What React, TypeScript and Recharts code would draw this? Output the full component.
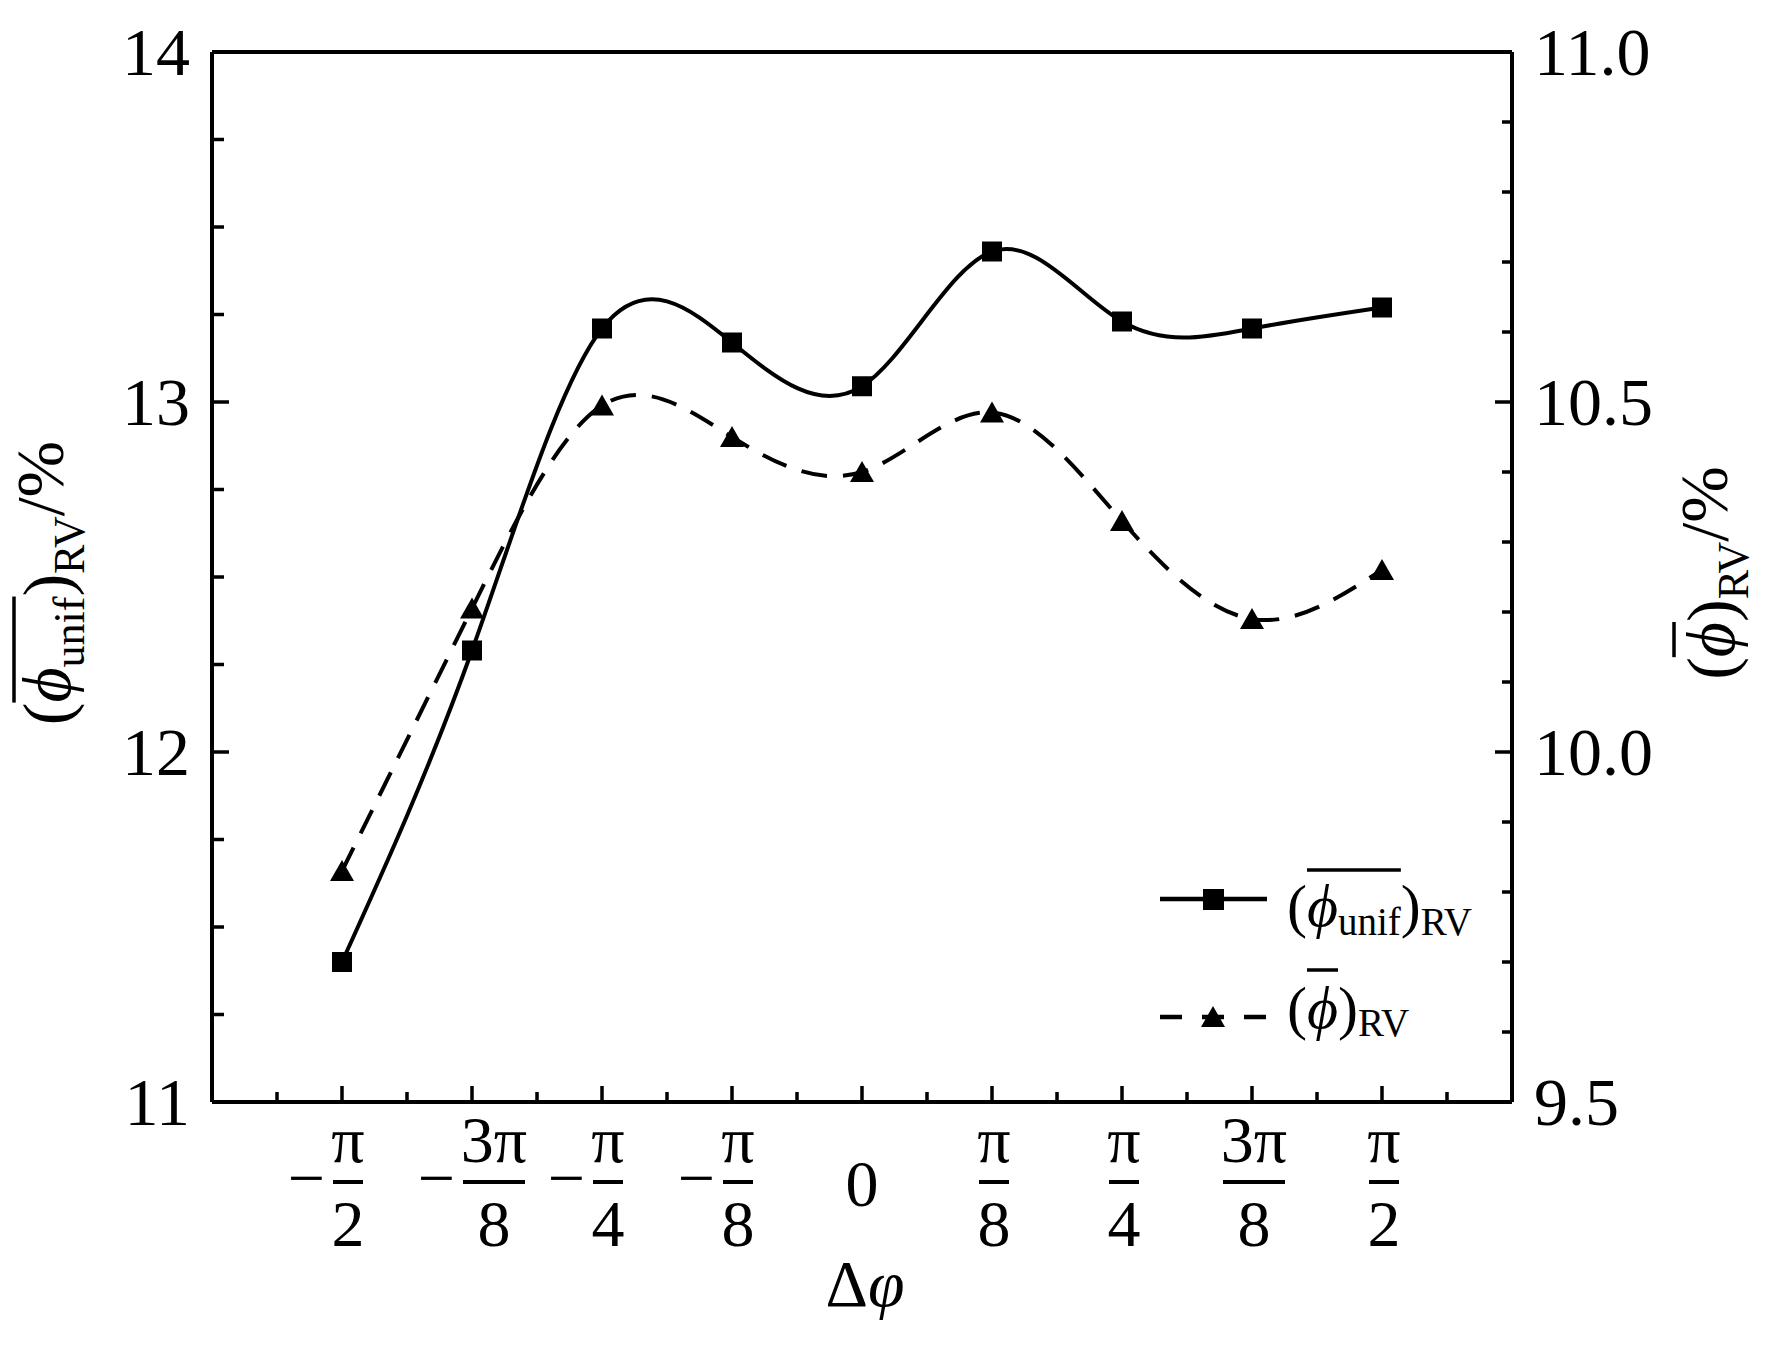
import React from 'react';
import { LineChart, Line, XAxis, YAxis, ReferenceLine, Legend, Label } from 'recharts';

// x positions in units of π/8
const xSteps = [-4, -3, -2, -1, 0, 1, 2, 3, 4];
const xTickLabels = ['−π/2', '−3π/8', '−π/4', '−π/8', '0', 'π/8', 'π/4', '3π/8', 'π/2'];
const xMinorTicks = [-4.5, -3.5, -2.5, -1.5, -0.5, 0.5, 1.5, 2.5, 3.5, 4.5];

// (φ_unif)RV on the left axis, (φ)RV on the right axis
const unifValues = [11.4, 12.29, 13.21, 13.17, 13.045, 13.43, 13.23, 13.21, 13.27];
const meanValues = [9.83, 10.205, 10.495, 10.45, 10.4, 10.485, 10.33, 10.19, 10.26];

const leftTicks = [11, 11.25, 11.5, 11.75, 12, 12.25, 12.5, 12.75, 13, 13.25, 13.5, 13.75, 14];
const leftMajor = [11, 12, 13, 14];
const leftTickLabels = ['11', '12', '13', '14'];
const rightTicks = [9.5, 9.6, 9.7, 9.8, 9.9, 10.0, 10.1, 10.2, 10.3, 10.4, 10.5, 10.6, 10.7, 10.8, 10.9, 11.0];
const rightMajor = [9.5, 10.0, 10.5, 11.0];
const rightTickLabels = ['9.5', '10.0', '10.5', '11.0'];

const FONT = '"Liberation Serif", "Times New Roman", serif';

const data = xSteps.map((x, i) => ({ x, unif: unifValues[i], mean: meanValues[i] }));
const xAxisTicks = [...xSteps, ...xMinorTicks].sort((a, b) => a - b);

const ctx = typeof document !== 'undefined' ? document.createElement('canvas').getContext('2d') : null;
function textWidth(s: string, size: number, italic = false) {
  if (!ctx) return s.length * size * 0.5;
  ctx.font = `${italic ? 'italic ' : ''}${size}px ${FONT}`;
  return ctx.measureText(s).width;
}

type Piece = { t: string; size: number; italic?: boolean; dy?: number; bar?: boolean };

function MathText({ pieces, barY, anchor = 'middle' }: { pieces: Piece[]; barY: number; anchor?: 'middle' | 'start' }) {
  const widths = pieces.map((p) => textWidth(p.t, p.size, p.italic));
  const total = widths.reduce((a, b) => a + b, 0);
  let x = anchor === 'middle' ? -total / 2 : 0;
  let barStart: number | null = null;
  let barEnd = 0;
  const els: React.ReactNode[] = [];
  pieces.forEach((p, i) => {
    els.push(
      <text key={i} x={x} y={p.dy || 0} fontSize={p.size} fontFamily={FONT} fontStyle={p.italic ? 'italic' : 'normal'} fill="#000">
        {p.t}
      </text>
    );
    if (p.bar) {
      if (barStart === null) barStart = x;
      barEnd = x + widths[i];
    }
    x += widths[i];
  });
  if (barStart !== null) {
    els.push(<line key="bar" x1={barStart} x2={barEnd} y1={barY} y2={barY} stroke="#000" strokeWidth={3.5} />);
  }
  return <>{els}</>;
}

const LeftTick = (props: any) => {
  const { x, y, payload } = props;
  const i = leftMajor.indexOf(payload.value);
  const major = i >= 0;
  return (
    <g>
      <line x1={x} y1={y} x2={x + (major ? 17 : 12)} y2={y} stroke="#000" strokeWidth={3.5} />
      {major && (
        <text x={x - 22} y={y + 23} textAnchor="end" fontSize={68} fontFamily={FONT} fill="#000">
          {leftTickLabels[i]}
        </text>
      )}
    </g>
  );
};

const RightTick = (props: any) => {
  const { x, y, payload } = props;
  const i = rightMajor.findIndex((v) => Math.abs(v - payload.value) < 1e-6);
  const major = i >= 0;
  return (
    <g>
      <line x1={x} y1={y} x2={x - (major ? 17 : 10)} y2={y} stroke="#000" strokeWidth={3.5} />
      {major && (
        <text x={x + 22} y={y + 23} textAnchor="start" fontSize={68} fontFamily={FONT} fill="#000">
          {rightTickLabels[i]}
        </text>
      )}
    </g>
  );
};

function Fraction({ label, cx, y }: { label: string; cx: number; y: number }) {
  if (label === '0') {
    return (
      <text x={cx} y={y + 104} textAnchor="middle" fontSize={66} fontFamily={FONT} fill="#000">
        0
      </text>
    );
  }
  const neg = label.startsWith('−');
  const [num, den] = (neg ? label.slice(1) : label).split('/');
  const w = num.length > 1 ? 62 : 30;
  const fc = cx + (neg ? (num.length > 1 ? 22 : 6) : 2);
  return (
    <g fontFamily={FONT} fontSize={66} fill="#000">
      {neg && (
        <text x={fc - w / 2 - 8} y={y + 98} textAnchor="end">
          −
        </text>
      )}
      <text x={fc} y={y + 60} textAnchor="middle">
        {num}
      </text>
      <line x1={fc - w / 2} x2={fc + w / 2} y1={y + 80} y2={y + 80} stroke="#000" strokeWidth={4} />
      <text x={fc} y={y + 144} textAnchor="middle">
        {den}
      </text>
    </g>
  );
}

const BottomTick = (props: any) => {
  const { x, y, payload } = props;
  const i = xSteps.indexOf(payload.value);
  const major = i >= 0;
  return (
    <g>
      <line x1={x} y1={y} x2={x} y2={y - (major ? 16 : 10)} stroke="#000" strokeWidth={3.5} />
      {major && <Fraction label={xTickLabels[i]} cx={x} y={y} />}
    </g>
  );
};

const SquareDot = (props: any) => {
  const { cx, cy, index } = props;
  if (cx == null || cy == null) return null;
  return <rect key={`sq-${index}`} x={cx - 10} y={cy - 10} width={20} height={20} fill="#000" />;
};

const TriangleDot = (props: any) => {
  const { cx, cy, index } = props;
  if (cx == null || cy == null) return null;
  return <path key={`tr-${index}`} d={`M${cx},${cy - 11} L${cx + 12},${cy + 10} L${cx - 12},${cy + 10} Z`} fill="#000" />;
};

const XTitle = (props: any) => {
  const vb = props.viewBox || { x: 212, y: 1102, width: 1300 };
  return (
    <text x={vb.x + vb.width / 2 + 3} y={vb.y + 204} textAnchor="middle" fontSize={66} fontFamily={FONT} fill="#000">
      Δ<tspan fontStyle="italic">φ</tspan>
    </text>
  );
};

const LeftTitle = (props: any) => {
  const vb = props.viewBox || { x: 72, y: 52, height: 1050 };
  return (
    <g transform={`translate(${vb.x - 2}, ${vb.y + vb.height / 2 + 6}) rotate(-90)`}>
      <MathText
        barY={-56}
        pieces={[
          { t: '(', size: 68 },
          { t: 'ϕ', size: 68, italic: true, bar: true },
          { t: 'unif', size: 44, dy: 14, bar: true },
          { t: ')', size: 68 },
          { t: 'RV', size: 44, dy: 14 },
          { t: '/%', size: 68, dy: -7 },
        ]}
      />
    </g>
  );
};

const RightTitle = (props: any) => {
  const vb = props.viewBox || { x: 1512, y: 52, height: 1050 };
  return (
    <g transform={`translate(${vb.x + 222}, ${vb.y + vb.height / 2 - 4}) rotate(-90)`}>
      <MathText
        barY={-60}
        pieces={[
          { t: '(', size: 68 },
          { t: 'ϕ', size: 68, italic: true, bar: true },
          { t: ')', size: 68 },
          { t: 'RV', size: 44, dy: 14 },
          { t: '/%', size: 68, dy: -7 },
        ]}
      />
    </g>
  );
};

const LegendContent = () => (
  <svg width={380} height={220}>
    <line x1={20} x2={127} y1={49} y2={49} stroke="#000" strokeWidth={4.5} />
    <rect x={63} y={39} width={21} height={21} fill="#000" />
    <g transform="translate(147, 76)">
      <MathText
        anchor="start"
        barY={-56}
        pieces={[
          { t: '(', size: 60 },
          { t: 'ϕ', size: 60, italic: true, bar: true },
          { t: 'unif', size: 39, dy: 9, bar: true },
          { t: ')', size: 60 },
          { t: 'RV', size: 39, dy: 9 },
        ]}
      />
    </g>
    <line x1={20} x2={127} y1={167} y2={167} stroke="#000" strokeWidth={4.5} strokeDasharray="22 20" />
    <path d="M73,156 L85,177 L61,177 Z" fill="#000" />
    <g transform="translate(147, 178)">
      <MathText
        anchor="start"
        barY={-58}
        pieces={[
          { t: '(', size: 60 },
          { t: 'ϕ', size: 60, italic: true, bar: true },
          { t: ')', size: 60 },
          { t: 'RV', size: 39, dy: 8 },
        ]}
      />
    </g>
  </svg>
);

export default function App() {
  return (
    <div style={{ position: 'absolute', left: 0, top: 0, width: 1772, height: 1346, background: '#fff' }}>
      <LineChart width={1772} height={1346} data={data} margin={{ top: 52, right: 120, bottom: 44, left: 72 }}>
        <XAxis
          dataKey="x"
          type="number"
          domain={[-5, 5]}
          ticks={xAxisTicks}
          interval={0}
          height={200}
          tickSize={0}
          tickMargin={0}
          tickLine={false}
          tick={BottomTick}
          axisLine={{ stroke: '#000', strokeWidth: 4 }}
        >
          <Label content={XTitle} />
        </XAxis>
        <YAxis
          yAxisId="left"
          type="number"
          domain={[11, 14]}
          ticks={leftTicks}
          interval={0}
          width={140}
          tickSize={0}
          tickMargin={0}
          tickLine={false}
          tick={LeftTick}
          axisLine={{ stroke: '#000', strokeWidth: 4 }}
        >
          <Label content={LeftTitle} />
        </YAxis>
        <YAxis
          yAxisId="right"
          orientation="right"
          type="number"
          domain={[9.5, 11]}
          ticks={rightTicks}
          interval={0}
          width={140}
          tickSize={0}
          tickMargin={0}
          tickLine={false}
          tick={RightTick}
          axisLine={{ stroke: '#000', strokeWidth: 4 }}
        >
          <Label content={RightTitle} />
        </YAxis>
        <ReferenceLine yAxisId="left" y={14} stroke="#000" strokeWidth={4} />
        <Legend
          layout="vertical"
          align="center"
          verticalAlign="middle"
          wrapperStyle={{ left: 1140, top: 850, width: 380, height: 220 }}
          content={LegendContent}
        />
        <Line
          yAxisId="left"
          dataKey="unif"
          type="natural"
          stroke="#000"
          strokeWidth={4}
          dot={SquareDot}
          activeDot={false}
          isAnimationActive={false}
        />
        <Line
          yAxisId="right"
          dataKey="mean"
          type="natural"
          stroke="#000"
          strokeWidth={4}
          strokeDasharray="26 16"
          dot={TriangleDot}
          activeDot={false}
          isAnimationActive={false}
        />
      </LineChart>
    </div>
  );
}
